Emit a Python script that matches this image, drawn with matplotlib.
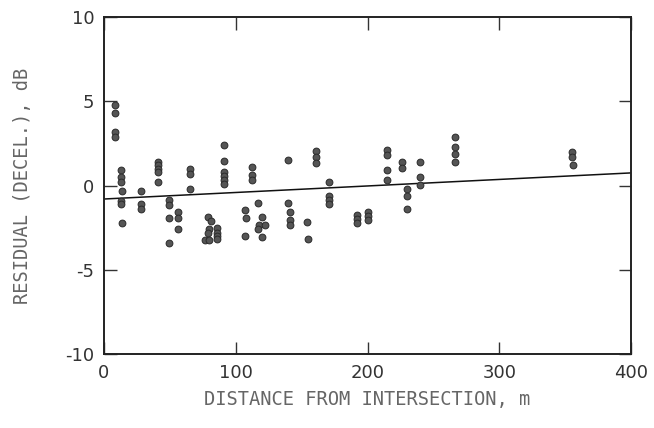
import matplotlib
matplotlib.use("Agg")
from matplotlib import pyplot as plt

# distance from intersection (m) and residual (dB)
dist = [8, 8, 8, 8,
        13, 13, 13, 14, 13, 13, 14,
        28, 28, 28,
        41, 41, 41, 41, 41,
        49, 49, 49, 49,
        56, 56, 56,
        65, 65, 65,
        79, 81, 80, 79, 77, 80,
        86, 86, 86, 86,
        91, 91, 91, 91, 91, 91,
        107, 108, 107,
        112, 112, 112,
        117, 120, 118, 122, 117, 120,
        140, 140, 141, 141, 141,
        154, 155,
        161, 161, 161,
        171, 171, 171, 171,
        192, 192, 192,
        200, 200, 200,
        215, 215, 215, 215,
        226, 226,
        230, 230, 230,
        240, 240, 240,
        266, 266, 266, 266,
        355, 355, 356]
resid = [4.8, 4.3, 3.2, 2.9,
         0.9, 0.5, 0.2, -0.3, -0.9, -1.1, -2.2,
         -0.3, -1.1, -1.4,
         1.4, 1.2, 1.0, 0.8, 0.2,
         -0.85, -1.15, -1.9, -3.4,
         -1.55, -1.9, -2.6,
         1.0, 0.7, -0.2,
         -1.85, -2.1, -2.6, -2.8, -3.25, -3.25,
         -2.5, -2.8, -3.0, -3.2,
         2.4, 1.45, 0.8, 0.55, 0.3, 0.1,
         -1.45, -1.95, -3.0,
         1.1, 0.6, 0.3,
         -1.05, -1.85, -2.35, -2.35, -2.6, -3.05,
         1.5, -1.05, -1.6, -2.05, -2.35,
         -2.15, -3.2,
         2.05, 1.7, 1.35,
         0.2, -0.6, -0.85, -1.1,
         -1.75, -2.0, -2.25,
         -1.55, -1.8, -2.05,
         2.1, 1.8, 0.95, 0.3,
         1.4, 1.05,
         -0.2, -0.6, -1.4,
         1.4, 0.5, 0.05,
         2.9, 2.3, 1.9, 1.4,
         2.0, 1.7, 1.2]

# fitted regression line
fit_x = [0, 400]
fit_y = [-0.8, 0.75]

xticks = [0, 100, 200, 300, 400]
yticks = [-10, -5, 0, 5, 10]

plt.rcParams['font.family'] = ['DejaVu Sans']
plt.rcParams['axes.unicode_minus'] = False

fig = plt.figure(figsize=(6.54, 4.28), dpi=100)
ax = fig.add_axes([0.159, 0.173, 0.806, 0.787])

ax.scatter(dist, resid, s=24, color='#555555', edgecolors='#2a2a2a',
           linewidths=0.7, zorder=3)
ax.plot(fit_x, fit_y, color='#111111', lw=1.1, zorder=2)

ax.set_xlim(0, 400)
ax.set_ylim(-10, 10)
ax.set_xticks(xticks)
ax.set_yticks(yticks)
ax.tick_params(direction='in', length=9, width=1.0, top=True, right=True,
               labelsize=13, colors='#333333', pad=7)
for s in ax.spines.values():
    s.set_linewidth(1.4)
    s.set_color('#222222')

ax.set_xlabel('DISTANCE FROM INTERSECTION, m', fontsize=13.5, color='#666666',
              labelpad=6, family=['DejaVu Sans Mono'])
ax.set_ylabel('RESIDUAL (DECEL.), dB', fontsize=13.5, color='#666666',
              labelpad=24, family=['DejaVu Sans Mono'])

fig.savefig('out.png', dpi=100)
